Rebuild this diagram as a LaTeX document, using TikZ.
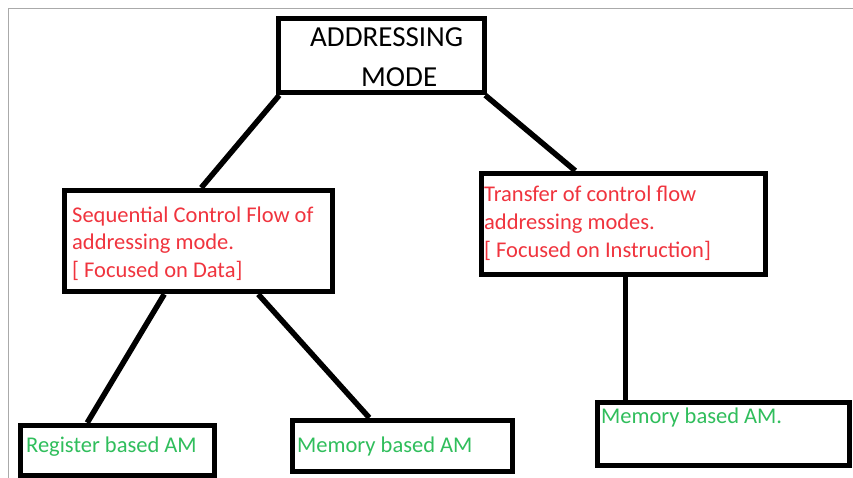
\documentclass[tikz,border=0pt]{standalone}
\usepackage{fontspec}
\setmainfont{Carlito}
\definecolor{txtred}{RGB}{240,52,62}
\definecolor{txtgreen}{RGB}{48,190,92}
\definecolor{framegray}{RGB}{170,170,170}
\begin{document}
\begin{tikzpicture}[x=1pt,y=-1pt,
  boxnode/.style={draw=black, line width=5.5pt, rectangle, inner sep=0pt, fill=white},
  link/.style={draw=black, line width=5.5pt},
  redtxt/.style={anchor=base west, inner sep=0pt, align=left, text=txtred, font=\fontsize{22.5}{27.5}\selectfont},
  greentxt/.style={anchor=base west, inner sep=0pt, align=left, text=txtgreen, font=\fontsize{22.5}{27.5}\selectfont},
  titletxt/.style={anchor=base west, inner sep=0pt, align=left, text=black, font=\fontsize{29}{40}\selectfont}]
\useasboundingbox (0,0) rectangle (853,478);
\fill[white] (0,0) rectangle (853,478);
\draw[framegray, line width=1.2pt] (8.5,478) -- (8.5,8.5) -- (853,8.5);

\node[boxnode, minimum width=206pt, minimum height=74pt] (top) at (381.5,55.5) {};
\node[boxnode, minimum width=268pt, minimum height=101pt] (seq) at (198.5,241) {};
\node[boxnode, minimum width=284pt, minimum height=101pt] (tcf) at (623.5,224) {};
\node[boxnode, minimum width=194pt, minimum height=50pt] (reg) at (117.5,450.5) {};
\node[boxnode, minimum width=220pt, minimum height=51pt] (mem) at (402.5,446) {};
\node[boxnode, minimum width=252pt, minimum height=63pt] (memr) at (723.5,434) {};

\node[titletxt] (toptxt) at (310,87) {ADDRESSING\\\hspace*{51pt}MODE};
\node[redtxt] (seqtxt) at (72,277) {Sequential Control Flow of\\addressing mode.\\{[} Focused on Data{]}};
\node[redtxt] (tcftxt) at (484,257) {Transfer of control flow\\addressing modes.\\{[} Focused on Instruction{]}};
\node[greentxt] (regtxt) at (26,452) {Register based AM};
\node[greentxt] (memtxt) at (297,452) {Memory based AM};
\node[greentxt] (memrtxt) at (601,423) {Memory based AM.};

\draw[link] ([xshift=3.5pt]top.south west) -- ([xshift=139.5pt]seq.north west);
\draw[link] ([xshift=-2pt]top.south east) -- ([xshift=96.5pt]tcf.north west);
\draw[link] ([xshift=102.5pt]seq.south west) -- ([xshift=69.5pt]reg.north west);
\draw[link] ([xshift=196.5pt]seq.south west) -- ([xshift=79.5pt]mem.north west);
\draw[link] ([xshift=146.5pt]tcf.south west) -- ([xshift=30.5pt]memr.north west);
\end{tikzpicture}
\end{document}
